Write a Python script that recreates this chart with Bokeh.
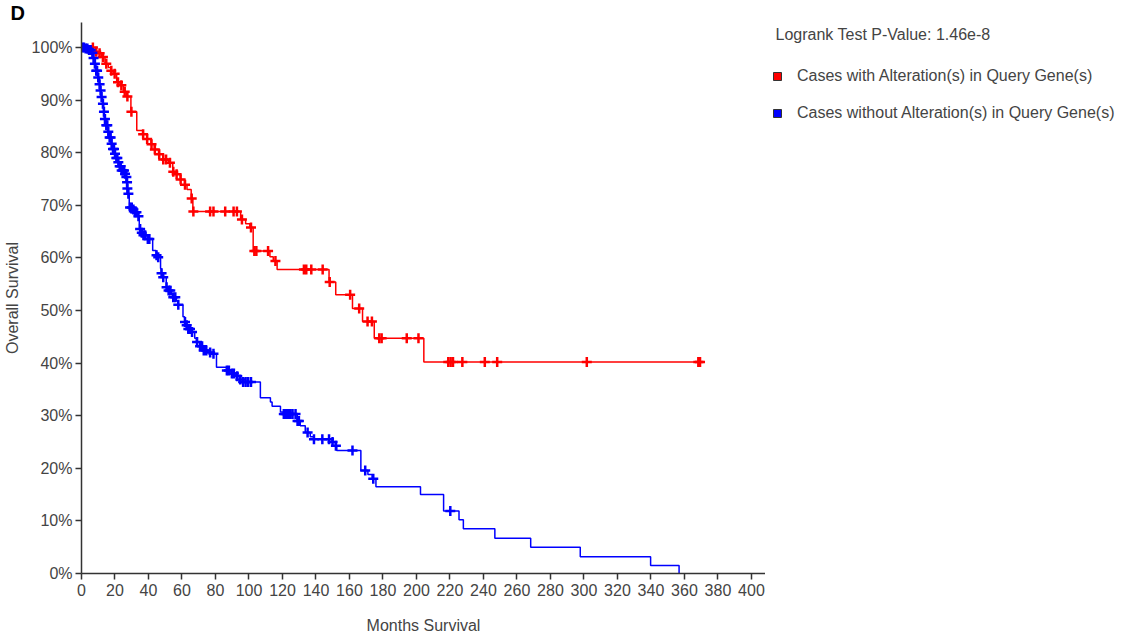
import numpy as np
from bokeh.plotting import figure
from bokeh.layouts import row
from bokeh.models import (Range1d, FixedTicker, PrintfTickFormatter, Label,
                          Legend, LegendItem)
from bokeh.embed import file_html
from bokeh.resources import INLINE

# ---- data (months, survival %) ----
red_times = [0, 7, 8.5, 10, 12, 14, 16, 17.5, 19, 21, 23, 25, 27, 29.5, 33, 36.5, 39, 41.5,
             43.5, 46, 48.5, 52, 54.5, 56.5, 59, 61.5, 63, 65.5, 66.5, 95, 98, 100.5, 102.5,
             112.5, 114.5, 116.8, 147.8, 151.8, 161.8, 167.8, 174.8, 204.4, 370]
red_surv = [100, 99.6, 99.2, 98.9, 98.2, 96.9, 96.2, 95.6, 95.0, 93.4, 92.8, 91.6, 90.7, 87.8,
            84.2, 83.5, 82.6, 81.6, 80.6, 79.7, 78.7, 78.1, 76.4, 75.9, 74.9, 73.9, 73.0, 71.3,
            68.8, 67.3, 66.5, 65.8, 61.3, 60.2, 59.4, 57.8, 55.4, 53.0, 50.4, 47.9, 44.7, 40.2, 40.2]
red_censor = [6.8, 8.8, 10.8, 12.8, 14.8, 17.8, 19.8, 21.8, 23.8, 25.8, 27.4, 29.8, 36.8, 39.2,
              41.8, 43.8, 46.4, 48.8, 50.5, 52.8, 54.8, 56.8, 59.2, 61.8, 65.8, 66.8, 76.8, 78.8,
              85.8, 90.8, 92.8, 95.8, 101.2, 103.2, 104.4, 111.4, 115.8, 132.8, 134.2, 137.2,
              144.0, 148.2, 160.4, 165.8, 170.8, 173.4, 177.8, 179.2, 194.2, 201.2, 219.0, 220.4,
              221.8, 227.4, 240.8, 248.2, 301.7, 368.3, 369.3]

blue_times = [0, 2, 4, 6, 7, 7.6, 8.6, 9.6, 10.6, 11.2, 11.6, 12.6, 13.2, 13.6, 14.6, 15.6, 16.6,
              17.6, 18.6, 19.6, 20.6, 21.6, 22.6, 23.6, 25.6, 26.6, 27.1, 27.3, 27.5, 28.5, 30.5,
              31.5, 33.5, 34.5, 35.5, 36.5, 39.5, 42.5, 44.5, 45.5, 47.2, 47.6, 48.6, 50.6, 51.6,
              53.6, 54.6, 56.6, 57.6, 60.6, 61.6, 62.6, 63.6, 65.6, 67.6, 68.6, 70.6, 72.6, 76.6,
              78.6, 80.6, 86.6, 89.6, 91.6, 94.6, 96.2, 106.8, 112.8, 113.8, 118.8, 120.6, 128.8,
              130.6, 133.6, 136.6, 138.6, 149.6, 151.6, 152.4, 166.8, 171, 173.5, 175.8, 202.4,
              216.2, 225.4, 228, 246.8, 268.2, 297.8, 339.8, 356.8]
blue_surv = [100, 99.8, 99.5, 99.0, 98.0, 96.9, 95.6, 94.3, 93.0, 91.8, 90.6, 89.3, 87.8, 86.4,
             85.2, 84.0, 82.9, 81.7, 80.7, 79.8, 79.0, 78.2, 77.4, 76.6, 76.0, 75.4, 74.4, 73.2,
             72.2, 69.6, 69.2, 68.7, 67.9, 65.5, 64.8, 64.3, 63.6, 61.4, 60.5, 60.1, 58.0, 57.1,
             56.3, 54.4, 53.8, 53.0, 52.5, 51.8, 51.1, 48.8, 47.8, 47.2, 46.5, 45.9, 44.7, 44.0,
             43.2, 42.4, 42.0, 41.8, 39.2, 38.6, 38.0, 37.5, 36.9, 36.4, 33.4, 32.6, 31.8, 30.7,
             30.3, 29.0, 28.1, 26.8, 26.0, 25.5, 25.0, 24.3, 23.4, 19.6, 18.8, 18.0, 16.5, 15.0,
             11.9, 10.2, 8.5, 6.7, 5.0, 3.2, 1.5, 0.0]
blue_censor = [0.5, 1.5, 2.5, 3.5, 4.5, 5.5, 6.5, 7.2, 8, 8.8, 9.3, 10, 10.8, 11.4, 12, 12.8,
               13.4, 14, 14.8, 15.4, 16, 16.8, 17.4, 18, 18.8, 19.4, 20, 20.8, 21.4, 22, 22.8,
               23.4, 24, 24.8, 25.4, 26, 26.8, 27.2, 27.4, 28, 29, 30, 31, 32, 32.8, 34, 35, 36,
               37, 38, 39.6, 40.5, 44.8, 45.8, 47.8, 48.8, 50.8, 52, 53, 54.8, 56, 57.8, 61.8,
               62.8, 63.8, 64.8, 66, 69, 70.8, 72, 73, 74.5, 76.8, 78.8, 86.8, 88, 89.8, 91, 93,
               94.8, 96.5, 98, 99.5, 101.2, 120.8, 121.8, 122.8, 123.8, 124.8, 126, 127.8, 129,
               129.8, 135, 138.8, 143.8, 147.8, 149.9, 151.9, 161.8, 169.4, 174.2, 220.2]

x_ticks = list(range(0, 401, 20))
y_ticks = list(range(0, 101, 10))
series_names = ["Cases with Alteration(s) in Query Gene(s)",
                "Cases without Alteration(s) in Query Gene(s)"]
series_colors = ["#ff0000", "#0000ff"]
pvalue_text = "Logrank Test P-Value: 1.46e-8"
panel_letter = "D"


def level_at(times, surv, t):
    idx = np.searchsorted(np.asarray(times), np.asarray(t), side="right") - 1
    return list(np.asarray(surv)[idx])


FONT = "Liberation Sans"
TXT = "#444444"

# ---------------- main survival plot ----------------
p = figure(width=765, height=638, output_backend="svg", toolbar_location=None,
           x_range=Range1d(0, 408.4), y_range=Range1d(0, 104.75),
           min_border_left=81, min_border_right=0, min_border_top=22,
           min_border_bottom=65)
p.grid.visible = False
p.outline_line_color = None

p.step(red_times, red_surv, mode="after", line_color=series_colors[0], line_width=1.5)
p.step(blue_times, blue_surv, mode="after", line_color=series_colors[1], line_width=1.5)
p.scatter(red_censor, level_at(red_times, red_surv, red_censor), marker="cross",
          size=10, line_color=series_colors[0], line_width=2.5)
p.scatter(blue_censor, level_at(blue_times, blue_surv, blue_censor), marker="cross",
          size=10, line_color=series_colors[1], line_width=2.5)

p.xaxis.ticker = FixedTicker(ticks=x_ticks)
p.yaxis.ticker = FixedTicker(ticks=y_ticks)
p.yaxis.formatter = PrintfTickFormatter(format="%d%%")
for ax in (p.xaxis, p.yaxis):
    ax.axis_line_color = "#333333"
    ax.axis_line_width = 1.5
    ax.major_tick_line_color = "#333333"
    ax.major_tick_line_width = 1.5
    ax.major_tick_out = 6
    ax.major_tick_in = 0
    ax.minor_tick_line_color = None
    ax.major_label_text_font = FONT
    ax.major_label_text_font_size = "16px"
    ax.major_label_text_color = TXT
    ax.axis_label_text_font = FONT
    ax.axis_label_text_font_size = "16px"
    ax.axis_label_text_font_style = "normal"
    ax.axis_label_text_color = TXT
p.xaxis.major_label_standoff = 4
p.yaxis.major_label_standoff = 3
p.xaxis.axis_label = "Months Survival"
p.yaxis.axis_label = "Overall Survival"
p.xaxis.axis_label_standoff = 18
p.yaxis.axis_label_standoff = 8

p.title.text = panel_letter
p.title.align = "left"
p.title.offset = -71
p.title.standoff = -2
p.title.text_font = FONT
p.title.text_font_size = "20px"
p.title.text_font_style = "bold"
p.title.text_color = "black"

# ---------------- legend panel (coordinates = page pixels) ----------------
q = figure(width=370, height=638, output_backend="svg", toolbar_location=None,
           x_range=Range1d(765, 1135), y_range=Range1d(573, 22),
           min_border_left=0, min_border_right=0, min_border_top=22,
           min_border_bottom=65)
q.axis.visible = False
q.grid.visible = False
q.outline_line_color = None

# swatch renderers: a single NaN point each, so only their legend swatch shows
swatches = [q.scatter([np.nan], [np.nan], marker="square", size=8, fill_color=c,
                      line_color="#333333") for c in series_colors]
legend = Legend(items=[LegendItem(label=n, renderers=[r])
                       for n, r in zip(series_names, swatches)],
                location=(2, 450), padding=0, margin=0, spacing=17,
                glyph_width=20, glyph_height=20, label_standoff=10,
                label_text_font=FONT, label_text_font_size="16px",
                label_text_color=TXT, border_line_color=None,
                background_fill_alpha=0)
q.add_layout(legend)
q.add_layout(Label(x=775, y=33.5, text=pvalue_text, text_font=FONT,
                   text_font_size="16px", text_color=TXT, text_baseline="alphabetic"))

layout = row(p, q)
open("out.html", "w").write(file_html(layout, INLINE))
